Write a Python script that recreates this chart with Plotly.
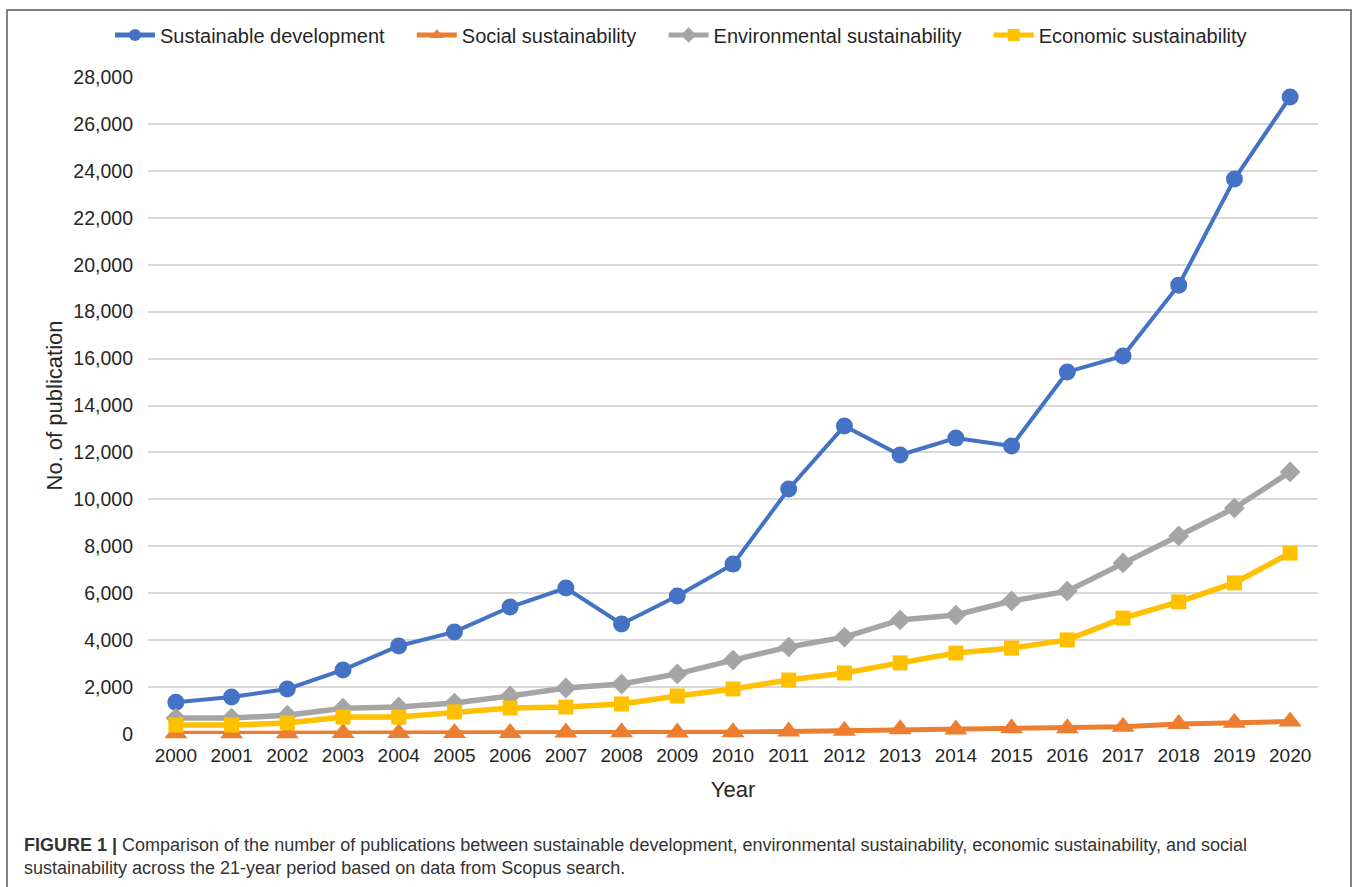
import plotly.graph_objects as go

years = list(range(2000, 2021))
sustainable_development = [1350, 1580, 1920, 2730, 3750, 4350, 5410, 6220, 4690, 5880, 7240,
                           10440, 13130, 11890, 12610, 12270, 15430, 16110, 19130, 23650, 27150]
social_sustainability = [30, 30, 35, 40, 40, 40, 45, 60, 70, 60, 70,
                         110, 140, 200, 190, 240, 240, 310, 430, 480, 530]
environmental_sustainability = [680, 680, 800, 1100, 1150, 1320, 1620, 1960, 2130, 2560, 3150,
                                3710, 4130, 4860, 5070, 5670, 6090, 7290, 8440, 9630, 11170]
economic_sustainability = [380, 380, 470, 720, 720, 940, 1110, 1150, 1280, 1620, 1920,
                           2300, 2600, 3030, 3450, 3660, 4010, 4940, 5630, 6440, 7710]
series_names = ["Sustainable development", "Social sustainability",
                "Environmental sustainability", "Economic sustainability"]

W, H = 1358, 887
L, R, T, B = 148, 1318, 77, 734  # plot area in px

def px_x(x):
    return (x - L) / (R - L)

def px_y(y):
    return (B - y) / (B - T)

fig = go.Figure()
styles = [
    ("#4472C4", "circle", 17, 4),
    ("#ED7D31", "triangle-up", 20, 5),
    ("#A5A5A5", "diamond", 16, 5.5),
    ("#FFC000", "square", 15, 5.5),
]
values = [sustainable_development, social_sustainability,
          environmental_sustainability, economic_sustainability]
pad = "\u00a0" * 4
for i, (name, vals, (col, sym, ms, lw)) in enumerate(zip(series_names, values, styles)):
    label = name + (pad if i < len(series_names) - 1 else "")
    fig.add_trace(go.Scatter(
        x=years, y=vals, name=label, mode="lines+markers",
        line=dict(color=col, width=lw),
        marker=dict(color=col, symbol=sym, size=ms),
        cliponaxis=False,
    ))

font_family = "Liberation Sans, Arial, sans-serif"
fig.update_layout(
    width=W, height=H,
    margin=dict(l=L, r=W - R, t=T, b=H - B),
    paper_bgcolor="white", plot_bgcolor="white",
    font=dict(family=font_family, color="#404040", size=19),
    showlegend=True,
    legend=dict(orientation="h", xref="container", yref="container",
                x=681 / W, xanchor="center", y=1 - 35 / H, yanchor="middle",
                font=dict(size=20, color="#262626"), itemsizing="constant",
                itemwidth=40, tracegroupgap=0),
    xaxis=dict(range=[1999.5, 2020.5], tickmode="array", tickvals=years,
               ticktext=[str(y) for y in years], showgrid=False, zeroline=False,
               showline=False, ticks="", ticklabelstandoff=8,
               tickfont=dict(size=19, color="#262626"),
               title=dict(text="Year", font=dict(size=22, color="#262626"), standoff=16)),
    yaxis=dict(range=[0, 28000], tick0=0, dtick=2000, tickformat=",d",
               showgrid=True, gridcolor="#D9D9D9", gridwidth=1.5, zeroline=False,
               showline=False, ticks="", ticklabelstandoff=14,
               tickfont=dict(size=19.5, color="#262626"),
               title=dict(text="No. of publication", font=dict(size=22, color="#262626"), standoff=4)),
)

# outer frame
fig.add_shape(type="rect", xref="paper", yref="paper",
              x0=px_x(7), x1=px_x(1351), y0=px_y(892), y1=px_y(10),
              line=dict(color="#595959", width=1.5), fillcolor="rgba(0,0,0,0)", layer="below")

fig.add_annotation(xref="paper", yref="paper", x=px_x(22), y=px_y(845),
                   xanchor="left", yanchor="middle", showarrow=False, align="left",
                   text="<b>FIGURE 1 |</b> Comparison of the number of publications between sustainable development, environmental sustainability, economic sustainability, and social",
                   font=dict(size=18, color="#333333", family=font_family))
fig.add_annotation(xref="paper", yref="paper", x=px_x(22), y=px_y(868),
                   xanchor="left", yanchor="middle", showarrow=False, align="left",
                   text="sustainability across the 21-year period based on data from Scopus search.",
                   font=dict(size=18, color="#333333", family=font_family))

fig.write_html("out.html")
